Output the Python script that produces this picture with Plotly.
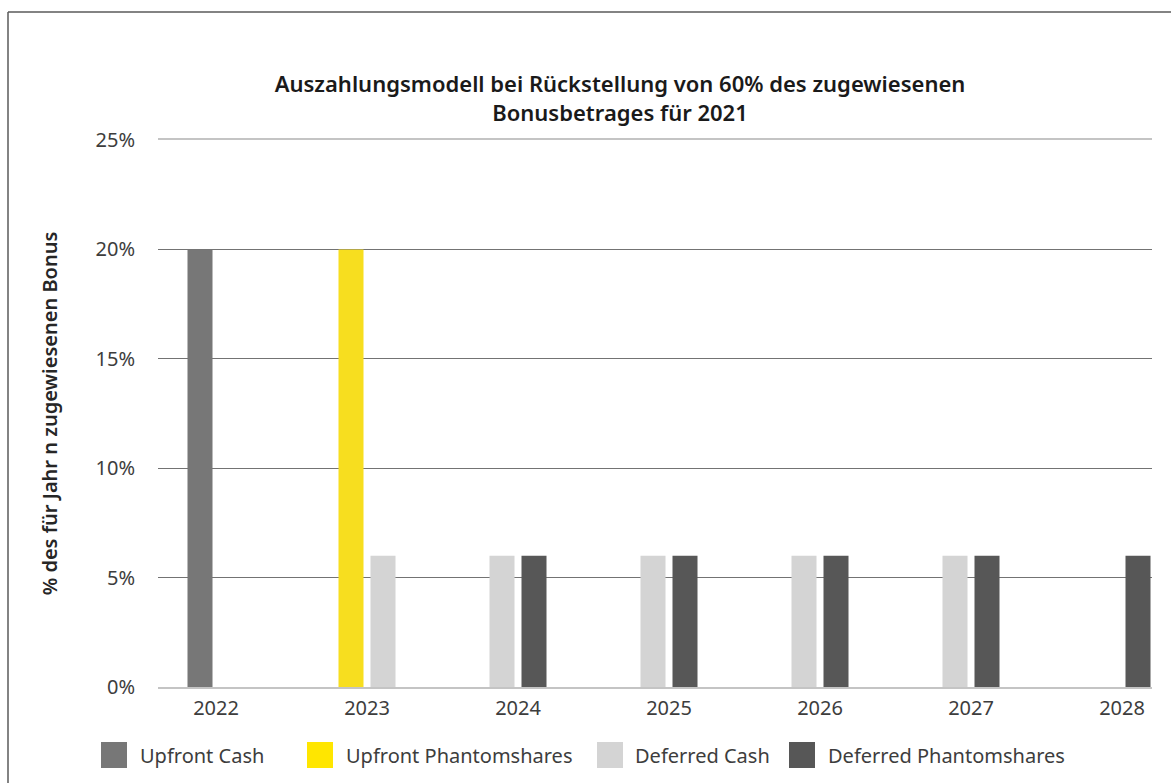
import plotly.graph_objects as go

# ---- data ----
years = ["2022", "2023", "2024", "2025", "2026", "2027", "2028"]
series_names = ["Upfront Cash", "Upfront Phantomshares", "Deferred Cash", "Deferred Phantomshares"]
upfront_cash = [20, 0, 0, 0, 0, 0, 0]
upfront_phantomshares = [0, 20, 0, 0, 0, 0, 0]
deferred_cash = [0, 6, 6, 6, 6, 6, 0]
deferred_phantomshares = [0, 0, 6, 6, 6, 6, 6]
y_ticks = [0, 5, 10, 15, 20, 25]
y_tick_labels = ["0%", "5%", "10%", "15%", "20%", "25%"]
title_lines = ["Auszahlungsmodell bei Rückstellung von 60% des zugewiesenen",
               "Bonusbetrages für 2021"]
y_title = "% des für Jahr n zugewiesenen Bonus"

series_values = [upfront_cash, upfront_phantomshares, deferred_cash, deferred_phantomshares]
bar_colors = ["#777777", "#F7DE1F", "#D4D4D4", "#575757"]
legend_colors = ["#777777", "#FFE600", "#D4D4D4", "#575757"]

# ---- layout geometry (pixels) ----
W, H = 1172, 783
PL, PR, PT, PB = 158, 1152, 140, 687
PX_PER_CAT = 151.0
FIRST_CAT_PX = 216.0
BAR_W = 25.0 / PX_PER_CAT
LEFT_OFF = -28.5 / PX_PER_CAT
RIGHT_OFF = 3.5 / PX_PER_CAT

x0 = -(FIRST_CAT_PX - PL) / PX_PER_CAT
x1 = x0 + (PR - PL) / PX_PER_CAT


def px(xp):
    return (xp - PL) / (PR - PL)


def py(yp):
    return (PB - yp) / (PB - PT)


# slot assignment: two slots per year (left / right)
slots = [[None] * len(years) for _ in series_values]
for i in range(len(years)):
    present = [s for s in range(len(series_values)) if series_values[s][i]]
    if len(present) >= 2:
        for k, s in enumerate(present[:2]):
            slots[s][i] = LEFT_OFF if k == 0 else RIGHT_OFF
    elif len(present) == 1:
        s = present[0]
        slots[s][i] = LEFT_OFF if s < 2 else RIGHT_OFF

fig = go.Figure()
for s, name in enumerate(series_names):
    vals = [v if v else None for v in series_values[s]]
    offs = [o if o is not None else 0 for o in slots[s]]
    fig.add_trace(go.Bar(
        x=years, y=vals, name=name,
        marker=dict(color=bar_colors[s], line=dict(width=0)),
        width=BAR_W, offset=offs, showlegend=False,
        hovertemplate="%{x}: %{y}%<extra>" + name + "</extra>",
    ))

FONT = "Noto Sans"
TXT = "#3d3d3d"

# custom legend (large square swatches)
legend_sq_x = [101, 307, 597, 789]
legend_txt_x = [138, 344, 633, 826]
shapes = []
annotations = []
for s, name in enumerate(series_names):
    shapes.append(dict(type="rect", xref="paper", yref="paper",
                       x0=px(legend_sq_x[s]), x1=px(legend_sq_x[s] + 26),
                       y0=py(768), y1=py(742),
                       fillcolor=legend_colors[s], line=dict(width=0)))
    annotations.append(dict(xref="paper", yref="paper", x=px(legend_txt_x[s]), y=py(755),
                            xanchor="left", yanchor="middle", showarrow=False,
                            text=name, font=dict(family=FONT, size=20, color=TXT)))

# outer frame: left edge and top edge (top edge stops short of the right side)
FRAME = dict(color="#5a5a5a", width=1.5)
shapes.append(dict(type="line", xref="paper", yref="paper",
                   x0=px(8), x1=px(8), y0=py(12), y1=py(H), line=FRAME))
shapes.append(dict(type="line", xref="paper", yref="paper",
                   x0=px(8), x1=px(W - 1), y0=py(12), y1=py(12), line=FRAME))

fig.update_layout(
    width=W, height=H,
    autosize=False,
    margin=dict(l=PL, r=W - PR, t=PT, b=H - PB, autoexpand=False),
    paper_bgcolor="white", plot_bgcolor="white",
    barmode="overlay",
    showlegend=False,
    title=dict(text="<br>".join(title_lines), xref="paper", x=px(620), xanchor="center",
               yref="container", y=1 - 92 / H, yanchor="middle",
               font=dict(family=FONT, size=22, color="#1a1a1a", weight=600)),
    font=dict(family=FONT, size=20, color=TXT),
    shapes=shapes,
    annotations=annotations,
)

fig.update_xaxes(
    type="category", range=[x0, x1],
    showgrid=False, zeroline=False,
    showline=True, mirror=True, linecolor="#c4c4c4", linewidth=1.5,
    ticks="", ticklabelstandoff=2,
    tickfont=dict(family=FONT, size=20, color=TXT),
)
fig.update_yaxes(
    range=[0, 25], tickmode="array", tickvals=y_ticks, ticktext=y_tick_labels,
    showgrid=True, gridcolor="#737373", gridwidth=1,
    zeroline=False, showline=False, ticks="", ticklabelstandoff=22,
    tickfont=dict(family=FONT, size=20, color=TXT),
    title=dict(text=y_title, standoff=32,
               font=dict(family=FONT, size=20, color="#262626", weight=600)),
)

fig.write_html("out.html", config={"responsive": False})
